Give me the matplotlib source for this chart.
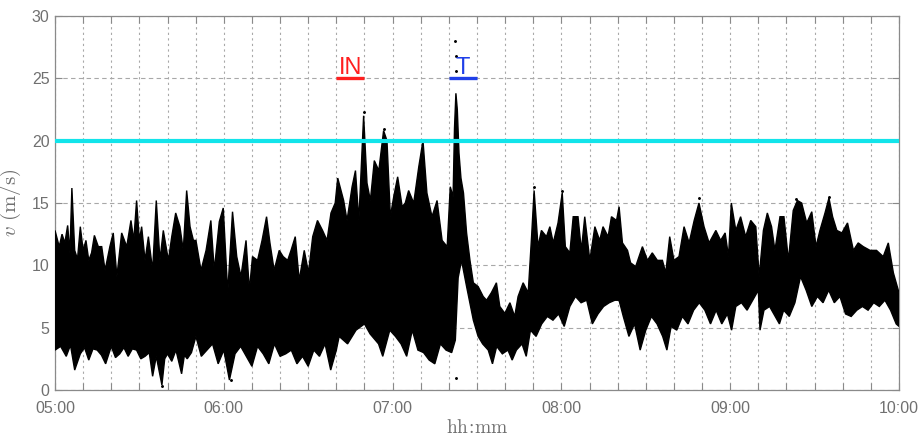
import numpy as np
import matplotlib
matplotlib.use("Agg")
import matplotlib.pyplot as plt
from matplotlib.ticker import MultipleLocator, FuncFormatter

plt.rcParams['mathtext.fontset'] = 'cm'

# minutes after 05:00 and upper envelope of v (m/s)
hi_t = [0, 1.5, 2.5, 3.5, 4.5, 5.3, 6, 7, 8, 9, 10, 11, 12, 13, 14, 15.4, 16.6, 17.8, 19.5, 20.7, 22, 23.7,
        25.5, 27, 28, 29, 30, 30.8, 32, 33.2, 34.7, 36, 37.3, 38.5, 40.3, 41.5, 42.9, 44.4, 45.6, 46.8, 48, 49.2,
        50.1, 51.9, 53.7, 55.4, 56.6, 58.4, 59.8, 61.4, 63.1, 64.6, 66.1, 67.9, 69.1, 70.2, 72, 73.6, 75.2,
        76.4, 77.9, 79.7, 81.1, 82.7, 83.9, 85.4, 86.8, 88.6, 90.1, 91.6, 93.3, 95.1, 96.7, 98.1, 99.6,
        100.5, 102.6, 103.8, 105.6, 106.8, 108, 109.7, 110.9, 112.1, 113.5, 115.1, 116.8, 118, 119.2, 120.4,
        121.8, 123.4, 124.5, 125.7, 127.5, 129.3, 130.8, 132.2, 134, 135.8, 137.6, 139.4,
        140.5, 141.5, 142.0, 142.5, 143.0, 143.6, 144.3, 145.2, 146.3, 147.5, 148.7,
        150.4, 152.2, 153.4, 155.1, 156.9, 158.1, 159.9, 161.7,
        163.4, 164.6, 166.4, 168.2, 169.4, 170.3, 171.7, 172.9, 174.7, 175.9, 177.1, 178.8, 180.3, 181.4,
        183, 184.2, 185.9, 187.1, 188.3, 190.1, 191.9, 193.6, 194.8, 196.6, 197.8, 199.6,
        200.5, 201.7, 203.5, 204.6, 206.4, 208.8, 210.6, 212.3, 214.1, 215.9, 217.1, 218.5, 220, 221.8,
        223.6, 225.4, 227.2, 228.9, 230.7, 232.5, 234.9, 236.6, 238.2, 239.4, 240.4, 242, 243.7, 245.5,
        247.3, 249.1, 250.3, 251.8, 253.2, 254.7, 255.9, 257.7, 259.1, 260.7, 262.4, 263.9, 265.4, 267.2,
        269, 270.5, 271.9, 273.7, 275.1, 276.4, 277.9, 279.7, 281.7, 283.8, 285.5, 287.3, 289.7, 292,
        294.4, 296.2, 298, 300]
hi_v = [12.8, 11.5, 12.5, 11.8, 13.2, 11.0, 16.2, 11.2, 10.5, 13.1, 11.2, 12.0, 10.4, 11.0, 12.4, 11.5, 11.5,
        9.6, 11.5, 12.6, 9.1, 12.6, 11.5, 13.6, 12.0, 15.2, 12.0, 13.1, 10.4, 12.3, 9.6, 15.2, 10.4, 12.8,
        10.4, 12.3, 14.2, 13.1, 11.2, 16.0, 13.1, 12.0,
        12.0, 9.6, 11.2, 13.6, 9.6, 13.5, 14.6, 7.8, 14.3, 10.7, 9.1, 12.0, 8.0, 10.7, 10.4, 12.0, 13.9,
        11.8, 9.6, 11.2, 10.7, 10.4, 11.2, 12.3, 8.8, 11.2, 9.4, 12.3, 13.6, 12.8, 12.0, 14.2, 15.0,
        17.0, 15.2, 13.6, 16.3, 17.6, 13.6, 22.0, 16.6, 15.2, 18.4, 17.6, 20.8, 20.0, 13.9, 15.5,
        17.1, 14.7, 15.0, 16.0, 15.0, 17.9, 20.0, 15.8, 13.9, 15.2, 12.0, 11.5,
        16.3, 15.5, 21.0, 23.8, 22.5, 19.0, 17.0, 15.8, 12.6, 10.4, 8.6,
        8.3, 7.5, 7.2, 7.8, 8.6, 6.7, 6.15, 7.0,
        5.9, 7.5, 8.6, 7.8, 12.3, 16.0, 11.5, 12.8, 12.3, 13.1, 11.8, 13.4, 15.8, 11.5,
        11.0, 13.9, 13.9, 11.2, 13.9, 10.4, 13.1, 12.0, 13.1, 12.3, 13.9, 13.6,
        14.7, 11.8, 11.2, 10.2, 9.9, 11.5, 10.4, 11.0, 10.4, 10.4, 9.4, 12.3, 10.4, 10.7,
        13.1, 11.8, 13.6, 15.0, 13.1, 11.8, 12.8, 12.0, 12.6, 10.7, 15.0, 12.8, 13.9, 12.3,
        13.6, 13.1, 9.1, 12.8, 14.2, 13.1, 11.2, 13.9, 13.9, 10.4, 14.4, 15.2, 15.0, 13.4,
        14.3, 11.5, 12.8, 14.2, 15.4, 13.9, 12.8, 12.6, 13.4, 11.2, 11.8, 11.5, 11.2, 11.2,
        10.7, 11.8, 9.4, 7.8]

# minutes after 05:00 and lower envelope of v (m/s)
lo_t = [0, 2, 4, 5.5, 7, 9, 10.5, 12, 13.5, 15, 16.5, 18, 20, 21.5, 23, 24.5, 26, 27.5, 29, 30.5, 32, 33.5,
        34.7, 36, 37.3, 38, 39, 40, 41.5, 43, 45, 46, 47, 48.5,
        50.1, 52, 54, 56, 58, 60, 62, 64, 66, 68, 70, 72, 74, 76, 78, 80, 82, 84, 86, 88, 90, 92, 94, 96,
        98, 100, 101, 104, 107, 110, 112, 115, 116.5, 119, 121, 123, 125, 127, 129, 131, 133, 135, 137,
        139, 141, 142.3, 143.3, 144.5, 146.3, 148.7, 150.4, 152, 154, 155.5, 157, 159, 161, 162.5, 164, 166,
        167.5, 169, 171, 173, 175, 177, 179, 181, 183, 185, 187, 189, 191, 193, 195, 197, 199,
        200.5, 202, 204, 206, 208, 210, 212, 214, 216, 217.5, 219, 221, 223, 225, 227, 229, 231, 233, 235,
        237, 239, 240.5, 242, 244, 246, 248, 250, 250.6, 252, 254, 256, 257.5, 259, 261, 263, 265, 267,
        269, 271, 273, 275, 277, 279, 281, 283, 285, 287, 289, 291, 293, 295, 297, 299, 300]
lo_v = [3.2, 3.5, 2.7, 3.6, 1.6, 2.9, 3.4, 2.4, 3.3, 3.2, 2.8, 2.1, 3.5, 2.6, 2.9, 3.4, 2.7, 3.3, 3.2, 2.5,
        2.7, 3.0, 1.1, 2.7, 1.2, 0.4, 2.5, 2.9, 2.3, 3.2, 1.3, 2.8, 2.5, 3.0,
        4.3, 2.7, 3.2, 3.7, 2.1, 3.2, 0.8, 2.9, 3.5, 2.7, 1.9, 3.5, 2.9, 2.1, 3.7, 2.7, 2.9, 3.2, 2.1, 2.7,
        1.9, 3.2, 2.7, 3.7, 1.6, 3.2, 4.3, 3.7, 4.8, 5.3, 4.5, 3.7, 2.7, 4.8, 4.3, 3.7, 2.7, 4.8, 3.2,
        3.0, 2.4, 2.1, 3.7, 3.2, 3.0, 4.0, 9.0, 10.4, 8.3, 5.6, 4.3, 3.7, 3.2, 2.1, 3.5, 2.9, 3.2, 2.4,
        3.2, 3.7, 2.7, 4.8, 4.3, 5.3, 5.9, 5.6, 6.1, 5.1, 6.7, 7.5, 7.0, 7.2, 5.3, 6.1, 6.7, 7.0, 7.2,
        7.2, 5.9, 4.3, 5.3, 3.2, 4.8, 5.9, 5.3, 4.3, 3.2, 5.1, 4.8, 5.9, 5.3, 6.4, 7.0, 6.4, 5.3, 6.4,
        5.3, 6.1, 4.8, 6.7, 7.0, 6.4, 7.2, 8.0, 4.8, 6.4, 6.7, 5.9, 5.3, 6.4, 5.9, 7.0, 9.1, 8.0,
        6.7, 7.5, 7.0, 8.0, 7.0, 7.5, 6.1, 5.9, 6.4, 6.7, 6.4, 7.0, 6.7, 7.2, 6.4, 5.3, 5.1]

# isolated samples outside the envelope (minutes, m/s)
out_t = [142.2, 142.4, 142.6, 142.5, 109.8, 117.0, 170.2, 180.2, 38.2, 62.5, 229.0, 275.0, 263.5]
out_v = [28.0, 26.8, 25.6, 1.0, 22.3, 20.9, 16.3, 16.0, 0.3, 0.8, 15.4, 15.5, 15.3]

threshold = 20
labels = [("IN", 100, 110, '#ff1f1f'), ("T", 140, 150, '#1f3fe8')]

fig = plt.figure(figsize=(9.19, 4.36), dpi=100)
ax = fig.add_axes([55/919, 46/436, 844/919, 374/436])

px = np.concatenate([hi_t, lo_t[::-1]])
py = np.concatenate([hi_v, lo_v[::-1]])
ax.fill(px, py, facecolor='black', edgecolor='black', linewidth=1.0, zorder=3)
ax.plot(out_t, out_v, 'o', color='black', markersize=1.1, zorder=3)

ax.axhline(threshold, color='#12e4ea', linewidth=3, zorder=4)

for txt, t0, t1, col in labels:
    ax.plot([t0, t1], [25, 25], color=col, linewidth=2.4, zorder=5, solid_capstyle='butt')
    ax.text((t0 + t1) / 2, 25.35, txt, color=col, fontsize=17, ha='center', va='baseline',
            family='Liberation Sans', zorder=5)

ax.set_xlim(0, 300)
ax.set_ylim(0, 30)
ax.xaxis.set_major_locator(MultipleLocator(60))
ax.xaxis.set_minor_locator(MultipleLocator(10))
ax.yaxis.set_major_locator(MultipleLocator(5))
ax.xaxis.set_major_formatter(FuncFormatter(lambda m, p: f"{5 + int(round(m)) // 60:02d}:{int(round(m)) % 60:02d}"))

ax.set_axisbelow(True)
ax.grid(which='both', axis='x', color='#a8a8a8', linestyle=(0, (2, 3)), linewidth=0.8)
ax.grid(which='major', axis='y', color='#a8a8a8', linestyle=(0, (4, 3)), linewidth=0.8)

for s in ax.spines.values():
    s.set_color('#8a8a8a')
    s.set_linewidth(0.9)
ax.tick_params(which='both', direction='in', top=True, right=True, color='#8a8a8a',
               length=5, width=0.8, labelcolor='#707070', labelsize=11.5)
ax.tick_params(axis='x', pad=8)
ax.tick_params(axis='y', pad=4)
for lab in ax.get_xticklabels() + ax.get_yticklabels():
    lab.set_family('Liberation Sans')

ax.set_xlabel(r'$\mathrm{hh\!:\!mm}$', fontsize=14, color='#707070', va='top')
ax.xaxis.set_label_coords(0.5, -0.075)
ax.set_ylabel(r'$v\ \mathrm{(m/s)}$', fontsize=15, color='#707070', labelpad=6)

fig.savefig('out.png', dpi=100)
